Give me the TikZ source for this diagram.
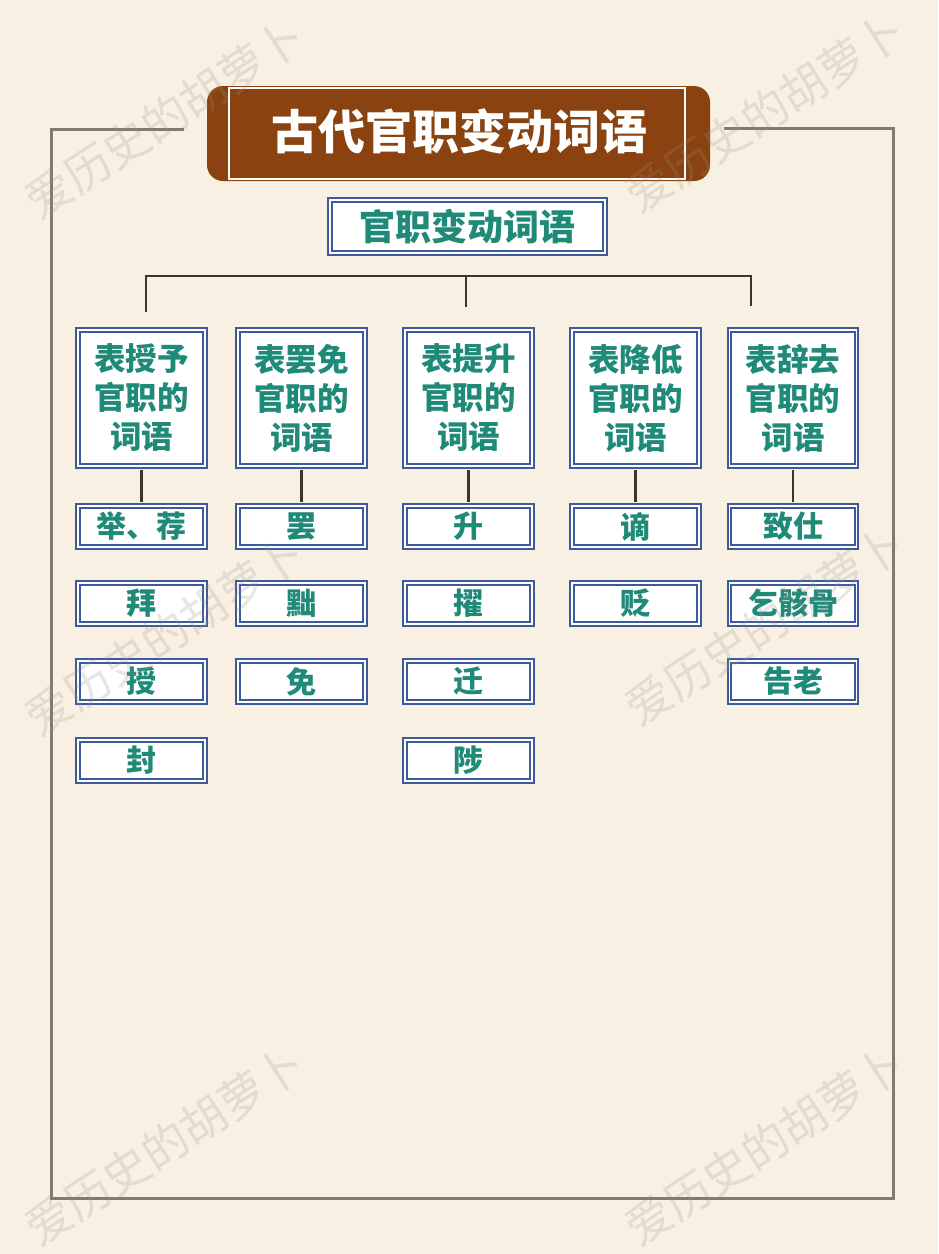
\documentclass[tikz,border=0pt]{standalone}
\usepackage{fontspec}
\newfontfamily\cjk{Noto Sans CJK SC}
\definecolor{bg}{HTML}{F8F0E2}
\definecolor{frame}{HTML}{7E7A74}
\definecolor{brownband}{HTML}{8A4310}
\definecolor{boxblue}{HTML}{3F5A9A}
\definecolor{teal}{HTML}{1F8A78}
\definecolor{linedark}{HTML}{3E3428}
\definecolor{wm}{HTML}{9A9188}
\tikzset{
  dbl/.style={draw=boxblue, line width=1.8pt, double=white, double distance=1.8pt, fill=white},
  catbox/.style={dbl, minimum width=127pt, minimum height=136pt, inner sep=0pt,
    font=\cjk\bfseries\fontsize{31.5}{39}\selectfont, text=teal, align=center},
  itembox/.style={dbl, minimum width=127pt, minimum height=41pt, inner sep=0pt,
    font=\cjk\bfseries\fontsize{30}{36}\selectfont, text=teal},
  subbox/.style={dbl, minimum width=275pt, minimum height=53pt, inner sep=0pt,
    font=\cjk\bfseries\fontsize{36}{40}\selectfont, text=teal},
  conn/.style={draw=linedark, line width=2.8pt},
  framel/.style={draw=frame, line width=3pt},
  wmark/.style={font=\cjk\fontsize{46}{50}\selectfont, text=wm, text opacity=0.22, rotate=33}
}
\begin{document}
\begin{tikzpicture}[x=1pt,y=-1pt]
\fill[bg] (0,0) rectangle (938,1254);
\useasboundingbox (0,0) rectangle (938,1254);
% frame
\coordinate (f1) at (184,129);
\coordinate (f2) at (51,129);
\coordinate (f3) at (51,1198);
\coordinate (f4) at (893,1198);
\coordinate (f5) at (893,128);
\coordinate (f6) at (724,128);
\draw[framel] (f1) -- (f2) -- (f3) -- (f4) -- (f5) -- (f6);
% title band
\fill[brownband, rounded corners=16pt] (207,86) rectangle (710,181);
\draw[white, line width=2.6pt] (229,88) rectangle (685,179);
\node[font=\cjk\bfseries\fontsize{47}{50}\selectfont, text=white] (title) at (459,131) {古代官职变动词语};
% subtitle
\node[subbox] (sub) at (467.5,226.5) {官职变动词语};
% top bar
\coordinate (b1) at (146,276);
\coordinate (b2) at (466,276);
\coordinate (b3) at (751,276);
\coordinate (d1) at (146,312);
\coordinate (d2) at (466,307);
\coordinate (d3) at (751,306);
\draw[conn] (d1) -- (b1) -- (b3) -- (d3);
\draw[conn] (b2) -- (d2);
% categories
\node[catbox] (c1) at (141.5,398) {表授予\\官职的\\词语};
\node[catbox] (c2) at (301.5,398) {表罢免\\官职的\\词语};
\node[catbox] (c3) at (468.5,398) {表提升\\官职的\\词语};
\node[catbox] (c4) at (635.5,398) {表降低\\官职的\\词语};
\node[catbox] (c5) at (793,398) {表辞去\\官职的\\词语};
% items
\node[itembox] (i11) at (141.5,526.5) {举、荐};
\node[itembox] (i12) at (141.5,603.5) {拜};
\node[itembox] (i13) at (141.5,681.5) {授};
\node[itembox] (i14) at (141.5,760.5) {封};
\node[itembox] (i21) at (301.5,526.5) {罢};
\node[itembox] (i22) at (301.5,603.5) {黜};
\node[itembox] (i23) at (301.5,681.5) {免};
\node[itembox] (i31) at (468.5,526.5) {升};
\node[itembox] (i32) at (468.5,603.5) {擢};
\node[itembox] (i33) at (468.5,681.5) {迁};
\node[itembox] (i34) at (468.5,760.5) {陟};
\node[itembox] (i41) at (635.5,526.5) {谪};
\node[itembox] (i42) at (635.5,603.5) {贬};
\node[itembox] (i51) at (793,526.5) {致仕};
\node[itembox] (i52) at (793,603.5) {乞骸骨};
\node[itembox] (i53) at (793,681.5) {告老};
% connectors
\draw[conn] ([yshift=-3pt]c1.south) -- ([yshift=3pt]i11.north);
\draw[conn] ([yshift=-3pt]c2.south) -- ([yshift=3pt]i21.north);
\draw[conn] ([yshift=-3pt]c3.south) -- ([yshift=3pt]i31.north);
\draw[conn] ([yshift=-3pt]c4.south) -- ([yshift=3pt]i41.north);
\draw[conn] ([yshift=-3pt]c5.south) -- ([yshift=3pt]i51.north);
% watermarks
\node[wmark] (w1) at (165,118) {爱历史的胡萝卜};
\node[wmark] (w2) at (765,112) {爱历史的胡萝卜};
\node[wmark] (w3) at (165,635) {爱历史的胡萝卜};
\node[wmark] (w4) at (765,625) {爱历史的胡萝卜};
\node[wmark] (w5) at (165,1145) {爱历史的胡萝卜};
\node[wmark] (w6) at (765,1145) {爱历史的胡萝卜};
\end{tikzpicture}
\end{document}
